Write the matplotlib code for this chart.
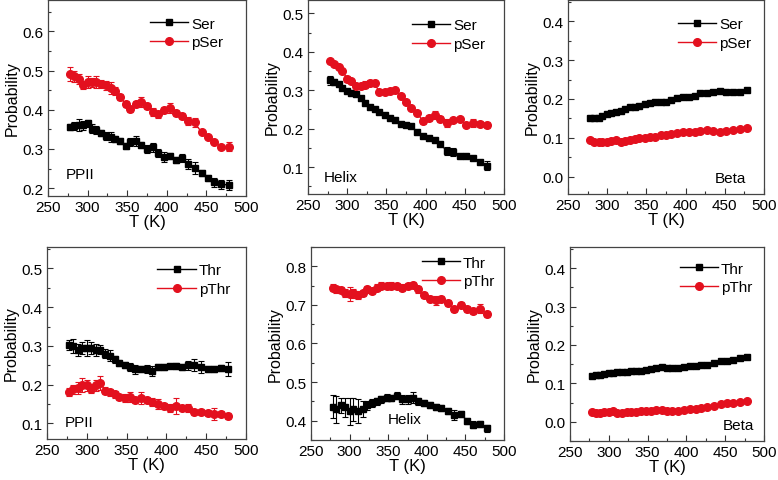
import matplotlib
matplotlib.use("Agg")
import matplotlib.pyplot as plt
from matplotlib.ticker import MultipleLocator, FormatStrFormatter

plt.rcParams['font.family'] = ['Liberation Sans', 'DejaVu Sans']

# temperatures of the replicas (K)
temps = [278, 283, 289, 294, 300, 305, 311, 317, 323, 329, 335, 341, 348, 354, 361,
         368, 375, 382, 389, 397, 404, 412, 419, 427, 435, 444, 452, 460, 469, 478]

# Ser / pSer
ser_ppii = [0.356, 0.358, 0.362, 0.360, 0.365, 0.352, 0.348, 0.340, 0.332, 0.330,
            0.326, 0.320, 0.308, 0.318, 0.320, 0.310, 0.300, 0.304, 0.290, 0.280,
            0.282, 0.272, 0.276, 0.262, 0.252, 0.238, 0.226, 0.215, 0.210, 0.208]
ser_ppii_err = [0.008, 0.010, 0.015, 0.012, 0.010, 0.012, 0.010, 0.008, 0.010, 0.012,
                0.008, 0.008, 0.008, 0.010, 0.012, 0.008, 0.010, 0.012, 0.010, 0.012,
                0.008, 0.008, 0.010, 0.012, 0.015, 0.008, 0.008, 0.012, 0.012, 0.012]
pser_ppii = [0.492, 0.485, 0.478, 0.462, 0.470, 0.470, 0.470, 0.466, 0.462, 0.455,
             0.448, 0.432, 0.415, 0.402, 0.415, 0.420, 0.410, 0.395, 0.388, 0.400,
             0.405, 0.392, 0.385, 0.372, 0.368, 0.342, 0.330, 0.318, 0.305, 0.306]
pser_ppii_err = [0.018, 0.015, 0.012, 0.010, 0.015, 0.012, 0.015, 0.010, 0.012, 0.015,
                 0.010, 0.008, 0.008, 0.008, 0.008, 0.012, 0.008, 0.010, 0.008, 0.008,
                 0.012, 0.008, 0.008, 0.010, 0.012, 0.005, 0.005, 0.005, 0.005, 0.012]
ser_helix = [0.326, 0.322, 0.316, 0.306, 0.298, 0.294, 0.290, 0.280, 0.266, 0.256,
             0.250, 0.244, 0.236, 0.228, 0.222, 0.212, 0.210, 0.206, 0.192, 0.182,
             0.176, 0.170, 0.160, 0.142, 0.140, 0.130, 0.128, 0.124, 0.114, 0.104]
ser_helix_err = [0.012, 0.008, 0.006, 0.006, 0.006, 0.006, 0.006, 0.006, 0.005, 0.005,
                 0.005, 0.005, 0.005, 0.005, 0.005, 0.005, 0.005, 0.005, 0.005, 0.005,
                 0.005, 0.005, 0.005, 0.010, 0.010, 0.005, 0.005, 0.005, 0.005, 0.012]
pser_helix = [0.375, 0.368, 0.360, 0.350, 0.330, 0.325, 0.312, 0.312, 0.315, 0.320,
              0.318, 0.295, 0.295, 0.298, 0.300, 0.285, 0.270, 0.255, 0.240, 0.220,
              0.228, 0.235, 0.225, 0.215, 0.222, 0.225, 0.210, 0.215, 0.212, 0.210]
pser_helix_err = [0.005, 0.005, 0.005, 0.005, 0.008, 0.005, 0.005, 0.005, 0.008, 0.008,
                  0.005, 0.005, 0.005, 0.005, 0.005, 0.005, 0.005, 0.005, 0.005, 0.008,
                  0.008, 0.010, 0.008, 0.010, 0.005, 0.005, 0.005, 0.010, 0.008, 0.008]
ser_beta = [0.151, 0.150, 0.152, 0.156, 0.160, 0.163, 0.167, 0.170, 0.175, 0.178,
            0.180, 0.182, 0.187, 0.190, 0.192, 0.193, 0.193, 0.198, 0.202, 0.205,
            0.206, 0.208, 0.215, 0.216, 0.218, 0.221, 0.218, 0.217, 0.219, 0.224]
ser_beta_err = [0.004] * 30
pser_beta = [0.094, 0.090, 0.089, 0.089, 0.090, 0.091, 0.093, 0.089, 0.092, 0.095,
             0.098, 0.100, 0.100, 0.101, 0.103, 0.106, 0.107, 0.109, 0.111, 0.115,
             0.114, 0.114, 0.118, 0.120, 0.117, 0.116, 0.118, 0.119, 0.122, 0.124]
pser_beta_err = [0.003] * 30

# Thr / pThr
thr_ppii = [0.302, 0.300, 0.290, 0.295, 0.295, 0.295, 0.290, 0.290, 0.280, 0.275,
            0.265, 0.255, 0.250, 0.245, 0.240, 0.240, 0.240, 0.235, 0.245, 0.245,
            0.248, 0.248, 0.246, 0.250, 0.250, 0.245, 0.240, 0.240, 0.243, 0.240]
thr_ppii_err = [0.012, 0.018, 0.015, 0.015, 0.020, 0.015, 0.015, 0.012, 0.012, 0.015,
                0.010, 0.008, 0.008, 0.010, 0.012, 0.008, 0.010, 0.012, 0.008, 0.008,
                0.005, 0.008, 0.008, 0.012, 0.015, 0.015, 0.008, 0.008, 0.008, 0.018]
pthr_ppii = [0.182, 0.188, 0.192, 0.200, 0.198, 0.190, 0.198, 0.205, 0.185, 0.180,
             0.175, 0.168, 0.165, 0.168, 0.160, 0.165, 0.160, 0.155, 0.150, 0.145,
             0.140, 0.145, 0.140, 0.140, 0.130, 0.130, 0.128, 0.125, 0.124, 0.120]
pthr_ppii_err = [0.010, 0.012, 0.015, 0.018, 0.015, 0.012, 0.015, 0.018, 0.010, 0.010,
                 0.010, 0.008, 0.010, 0.012, 0.008, 0.015, 0.008, 0.010, 0.012, 0.008,
                 0.010, 0.020, 0.008, 0.010, 0.008, 0.008, 0.008, 0.015, 0.008, 0.008]
thr_helix = [0.436, 0.430, 0.440, 0.435, 0.425, 0.430, 0.425, 0.430, 0.440, 0.445,
             0.450, 0.455, 0.460, 0.458, 0.465, 0.455, 0.455, 0.460, 0.450, 0.445,
             0.440, 0.435, 0.432, 0.425, 0.415, 0.418, 0.400, 0.390, 0.392, 0.380]
thr_helix_err = [0.030, 0.035, 0.020, 0.025, 0.035, 0.030, 0.030, 0.020, 0.012, 0.010,
                 0.010, 0.010, 0.010, 0.008, 0.010, 0.012, 0.012, 0.015, 0.010, 0.008,
                 0.008, 0.008, 0.008, 0.008, 0.012, 0.008, 0.008, 0.008, 0.008, 0.010]
pthr_helix = [0.745, 0.740, 0.738, 0.730, 0.728, 0.730, 0.725, 0.730, 0.740, 0.735,
              0.745, 0.750, 0.748, 0.750, 0.748, 0.745, 0.750, 0.752, 0.740, 0.725,
              0.715, 0.712, 0.715, 0.705, 0.690, 0.700, 0.690, 0.685, 0.690, 0.676]
pthr_helix_err = [0.008, 0.008, 0.008, 0.010, 0.018, 0.012, 0.010, 0.008, 0.008, 0.008,
                  0.008, 0.010, 0.008, 0.010, 0.008, 0.008, 0.008, 0.008, 0.008, 0.008,
                  0.008, 0.012, 0.008, 0.008, 0.008, 0.008, 0.008, 0.008, 0.012, 0.008]
thr_beta = [0.120, 0.121, 0.122, 0.125, 0.127, 0.128, 0.129, 0.130, 0.130, 0.131,
            0.131, 0.133, 0.135, 0.137, 0.140, 0.143, 0.141, 0.140, 0.139, 0.142,
            0.144, 0.146, 0.148, 0.149, 0.153, 0.157, 0.158, 0.160, 0.165, 0.168]
thr_beta_err = [0.004] * 30
pthr_beta = [0.025, 0.023, 0.024, 0.025, 0.026, 0.027, 0.023, 0.024, 0.026, 0.025,
             0.026, 0.027, 0.028, 0.028, 0.030, 0.031, 0.028, 0.028, 0.029, 0.030,
             0.032, 0.034, 0.036, 0.038, 0.042, 0.046, 0.048, 0.050, 0.051, 0.054]
pthr_beta_err = [0.003] * 30

RED = '#e3101e'

# (position in px: left, top, right, bottom), series, labels, ylim, annotation, legend anchor
panels = [
    ((48, 1, 246, 197), ser_ppii, ser_ppii_err, pser_ppii, pser_ppii_err, ('Ser', 'pSer'),
     (0.18, 0.68), 'PPII', (0.09, 0.11, 'left'), (0.885, 0.915)),
    ((308, 1, 504, 195), ser_helix, ser_helix_err, pser_helix, pser_helix_err, ('Ser', 'pSer'),
     (0.03, 0.535), 'Helix', (0.08, 0.09, 'left'), (0.905, 0.905)),
    ((568, 1, 764, 195), ser_beta, ser_beta_err, pser_beta, pser_beta_err, ('Ser', 'pSer'),
     (-0.045, 0.455), 'Beta', (0.91, 0.08, 'right'), (0.935, 0.91)),
    ((47, 248, 246, 440), thr_ppii, thr_ppii_err, pthr_ppii, pthr_ppii_err, ('Thr', 'pThr'),
     (0.06, 0.555), 'PPII', (0.09, 0.09, 'left'), (0.92, 0.915)),
    ((311, 248, 504, 441), thr_helix, thr_helix_err, pthr_helix, pthr_helix_err, ('Thr', 'pThr'),
     (0.35, 0.85), 'Helix', (0.40, 0.11, 'left'), (0.95, 0.955)),
    ((570, 248, 764, 442), thr_beta, thr_beta_err, pthr_beta, pthr_beta_err, ('Thr', 'pThr'),
     (-0.05, 0.455), 'Beta', (0.95, 0.08, 'right'), (0.94, 0.925)),
]

W, H = 778, 481
fig = plt.figure(figsize=(W / 100, H / 100), dpi=100)

for (l, t, r, b), y1, e1, y2, e2, labels, ylim, name, (ax_x, ax_y, ha), anchor in panels:
    ax = fig.add_axes([l / W, 1 - b / H, (r - l) / W, (b - t) / H])
    # error bars first, then line + markers on top (legend shows only the latter)
    ax.errorbar(temps, y1, yerr=e1, fmt='none', ecolor='black',
                elinewidth=0.8, capsize=2, capthick=0.8)
    ax.errorbar(temps, y2, yerr=e2, fmt='none', ecolor=RED,
                elinewidth=0.8, capsize=2, capthick=0.8)
    ax.plot(temps, y1, color='black', marker='s', ms=5, lw=1, label=labels[0])
    ax.plot(temps, y2, color=RED, marker='o', ms=5.5, lw=1, label=labels[1])
    ax.set_xlim(250, 500)
    ax.set_ylim(*ylim)
    ax.xaxis.set_major_locator(MultipleLocator(50))
    ax.xaxis.set_minor_locator(MultipleLocator(25))
    ax.yaxis.set_major_locator(MultipleLocator(0.1))
    ax.yaxis.set_minor_locator(MultipleLocator(0.05))
    ax.yaxis.set_major_formatter(FormatStrFormatter('%.1f'))
    ax.tick_params(which='both', direction='in', top=False, right=False,
                   labelsize=11, color='#333333', width=0.8, pad=3)
    ax.tick_params(which='major', length=4)
    ax.tick_params(which='minor', length=2)
    for sp in ax.spines.values():
        sp.set_color('#444444')
        sp.set_linewidth(0.9)
    ax.set_xlabel('T (K)', fontsize=12, labelpad=0)
    ax.set_ylabel('Probability', fontsize=11.5, labelpad=2)
    ax.text(ax_x, ax_y, name, transform=ax.transAxes, fontsize=11, ha=ha, va='center')
    ax.legend(loc='upper right', bbox_to_anchor=anchor, frameon=False, fontsize=11,
              handlelength=2.5, handletextpad=0.2, labelspacing=0.3,
              borderpad=0, borderaxespad=0)

fig.savefig('out.png', dpi=100)
